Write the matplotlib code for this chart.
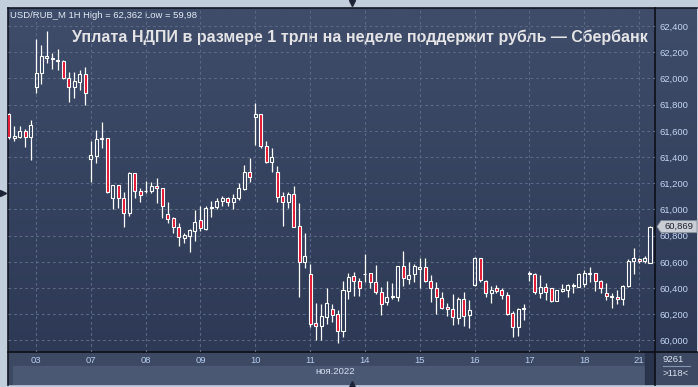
import numpy as np
import matplotlib
matplotlib.use("Agg")
import matplotlib.pyplot as plt
from matplotlib.patches import Rectangle, Polygon
from matplotlib.colors import LinearSegmentedColormap
from matplotlib.ticker import FuncFormatter

plt.rcParams['font.family'] = ['Liberation Sans', 'DejaVu Sans']

title = "Уплата НДПИ в размере 1 трлн на неделе поддержит рубль — Сбербанк"
symbol = "USD/RUB_M 1H"
month_label = "ноя.2022"
volume_text = "9261"

# hourly bars per trading day (first day is cut off at the left edge)
day_labels = ["02", "03", "07", "08", "09", "10", "11", "14", "15", "16", "17", "18", "21"]
day_counts = [5, 10, 10, 10, 10, 10, 10, 10, 10, 10, 10, 10, 3]

opens = [
    61.729, 61.548, 61.556, 61.599, 61.556,
    61.937, 62.040, 62.159, 62.159, 62.131, 62.134, 62.006, 61.933, 61.976, 62.032,
    61.383, 61.411, 61.536, 61.543, 61.085, 61.187, 61.085, 60.971, 61.276, 61.141,
    61.139, 61.143, 61.177, 61.162, 60.963, 60.933, 60.869, 60.785, 60.800, 60.838,
    60.920, 60.853, 61.009, 61.017, 61.067, 61.090, 61.060, 61.090, 61.156, 61.284,
    61.704, 61.727, 61.487, 61.365, 61.284, 61.103, 61.055, 61.116, 60.876, 60.601,
    60.505, 60.131, 60.113, 60.182, 60.238, 60.202, 60.072, 60.380, 60.492, 60.456,
    60.505, 60.513, 60.444, 60.368, 60.296, 60.330, 60.334, 60.566, 60.472, 60.505,
    60.543, 60.559, 60.456, 60.403, 60.322, 60.253, 60.238, 60.174, 60.314, 60.195,
    60.424, 60.627, 60.456, 60.360, 60.403, 60.385, 60.347, 60.208, 60.105, 60.238,
    60.508, 60.505, 60.365, 60.406, 60.398, 60.304, 60.380, 60.385, 60.416, 60.411,
    60.429, 60.508, 60.513, 60.454, 60.360, 60.334, 60.334, 60.314, 60.416, 60.609,
    60.620, 60.605, 60.594,
]
highs = [
    61.739, 61.637, 61.637, 61.612, 61.683,
    62.302, 62.256, 62.362, 62.197, 62.225, 62.141, 62.052, 62.052, 62.065, 62.090,
    61.523, 61.607, 61.668, 61.545, 61.187, 61.187, 61.136, 61.289, 61.276, 61.162,
    61.218, 61.212, 61.238, 61.165, 61.060, 60.945, 60.895, 60.823, 60.853, 60.996,
    61.027, 61.027, 61.067, 61.085, 61.103, 61.098, 61.118, 61.205, 61.340, 61.391,
    61.811, 61.730, 61.523, 61.467, 61.332, 61.136, 61.136, 61.179, 61.047, 60.818,
    60.582, 60.284, 60.276, 60.398, 60.276, 60.233, 60.454, 60.513, 60.521, 60.479,
    60.658, 60.516, 60.576, 60.406, 60.454, 60.437, 60.568, 60.683, 60.601, 60.582,
    60.627, 60.627, 60.500, 60.449, 60.372, 60.284, 60.353, 60.334, 60.368, 60.309,
    60.635, 60.630, 60.462, 60.416, 60.421, 60.398, 60.372, 60.227, 60.250, 60.282,
    60.533, 60.513, 60.500, 60.441, 60.403, 60.387, 60.431, 60.431, 60.441, 60.516,
    60.538, 60.563, 60.517, 60.462, 60.437, 60.365, 60.385, 60.421, 60.620, 60.704,
    60.627, 60.645, 60.874,
]
lows = [
    61.540, 61.525, 61.543, 61.479, 61.378,
    61.892, 61.956, 62.121, 62.070, 62.065, 61.998, 61.823, 61.853, 61.912, 61.795,
    61.212, 61.353, 61.472, 61.124, 61.001, 61.009, 60.869, 60.950, 61.085, 61.060,
    61.128, 61.128, 61.052, 60.937, 60.895, 60.818, 60.721, 60.747, 60.678, 60.762,
    60.838, 60.843, 60.945, 61.001, 61.027, 61.027, 61.001, 61.072, 61.149, 61.212,
    61.492, 61.472, 61.357, 61.289, 61.060, 60.876, 61.014, 60.864, 60.334, 60.551,
    60.105, 60.004, 60.004, 60.124, 60.143, 59.980, 60.029, 60.317, 60.340, 60.340,
    60.444, 60.403, 60.355, 60.195, 60.271, 60.317, 60.304, 60.416, 60.431, 60.449,
    60.403, 60.449, 60.296, 60.202, 60.238, 60.189, 60.118, 60.124, 60.113, 60.093,
    60.416, 60.449, 60.334, 60.284, 60.365, 60.314, 60.195, 60.029, 60.034, 60.156,
    60.454, 60.355, 60.327, 60.309, 60.296, 60.302, 60.372, 60.330, 60.365, 60.406,
    60.411, 60.449, 60.380, 60.365, 60.309, 60.250, 60.276, 60.271, 60.411, 60.505,
    60.594, 60.594, 60.590,
]
closes = [
    61.551, 61.561, 61.599, 61.556, 61.645,
    62.040, 62.174, 62.172, 62.147, 62.139, 62.006, 61.933, 61.981, 62.034, 61.887,
    61.416, 61.536, 61.543, 61.131, 61.187, 61.085, 60.971, 61.281, 61.141, 61.111,
    61.143, 61.179, 61.162, 61.029, 60.930, 60.869, 60.788, 60.805, 60.843, 60.905,
    60.856, 61.009, 61.017, 61.065, 61.090, 61.060, 61.090, 61.162, 61.284, 61.250,
    61.727, 61.487, 61.365, 61.398, 61.098, 61.055, 61.116, 60.869, 60.601, 60.645,
    60.128, 60.113, 60.187, 60.284, 60.195, 60.075, 60.385, 60.487, 60.456, 60.403,
    60.510, 60.444, 60.368, 60.276, 60.330, 60.340, 60.566, 60.475, 60.500, 60.566,
    60.559, 60.456, 60.403, 60.330, 60.250, 60.238, 60.182, 60.314, 60.189, 60.233,
    60.627, 60.462, 60.360, 60.385, 60.380, 60.345, 60.202, 60.101, 60.238, 60.246,
    60.517, 60.372, 60.406, 60.372, 60.304, 60.385, 60.391, 60.421, 60.426, 60.508,
    60.513, 60.517, 60.454, 60.398, 60.340, 60.340, 60.314, 60.416, 60.609, 60.627,
    60.605, 60.627, 60.869,
]

o = np.array(opens)
h = np.array(highs)
l = np.array(lows)
c = np.array(closes)
n = len(c)
x = np.arange(n)


def fmt(v):
    return f"{v:.3f}".replace('.', ',')


W, H = 698, 387
fig = plt.figure(figsize=(W / 100, H / 100), dpi=100)
fig.patch.set_facecolor('#c3cedd')

# background / frame, drawn in pixel coordinates (y down)
bg = fig.add_axes([0, 0, 1, 1])
bg.axis('off')
grad = np.linspace(0, 1, 256)[:, None]
cmap = LinearSegmentedColormap.from_list('navy', ['#3f4d6a', '#2d3955'])
bg.imshow(grad, extent=(8, 697, 352, 8), cmap=cmap, aspect='auto', zorder=0)
bg.add_patch(Rectangle((8, 352), 647, 14, color='#3d4963', zorder=1))
bg.add_patch(Rectangle((12, 366), 633, 18, color='#4b5874', zorder=1))
bg.add_patch(Rectangle((8, 366), 4, 18, color='#3d4963', zorder=1))
bg.add_patch(Rectangle((645, 352), 10, 32, color='#2a354d', zorder=1))
bg.add_patch(Rectangle((655, 352), 42, 32, color='#3d4963', zorder=1))
bg.plot([8, 8], [8, 385], color='#121722', lw=1.2, zorder=2)
bg.plot([8, 697], [8, 8], color='#121722', lw=1.2, zorder=2)
bg.plot([655, 655], [8, 385], color='#0c0f16', lw=1.2, zorder=2)
bg.plot([8, 697], [352, 352], color='#0c0f16', lw=1.2, zorder=2)
bg.plot([663, 690], [366, 366], color='#8494ad', lw=0.8, zorder=2)
bg.plot(352, 3, marker='v', color='#1c2436', ms=5, zorder=3)
bg.plot(352, 384, marker='^', color='#1c2436', ms=5, zorder=3)
bg.plot(3, 193, marker='>', color='#1c2436', ms=5, zorder=3)
bg.text(335, 372, month_label, fontsize=6.8, color='#d4def0', ha='center', va='center', zorder=3)
bg.text(673, 359, volume_text, fontsize=6.8, color='#d8e2f0', ha='center', va='center', zorder=3)
bg.text(676, 373, f">{n}<", fontsize=6.8, color='#d8e2f0', ha='center', va='center', zorder=3)
bg.text(10, 15, f"{symbol} High = {fmt(h.max())} Low = {fmt(l.min())[:-1]}",
        fontsize=6.8, color='#e2eaf6', ha='left', va='center', zorder=3)
bg.text(72, 37, title, fontsize=11.5, weight='bold', color='#e4e4e6',
        ha='left', va='center', zorder=3)
bg.set_xlim(0, W)
bg.set_ylim(H, 0)

# candle area
ax = fig.add_axes([8 / W, (H - 352) / H, 647 / W, 344 / H])
ax.patch.set_alpha(0)
for s in ax.spines.values():
    s.set_visible(False)

dx = 5.482
left = -(8.6 - 8) / dx
ax.set_xlim(left, left + 647 / dx)
ax.set_ylim(59.912, 62.538)

day_start = np.cumsum([0] + day_counts[:-1])
ax.set_xticks(day_start[1:])
ax.set_xticklabels(day_labels[1:])
ax.set_yticks(np.arange(60.0, 62.41, 0.2))
ax.yaxis.set_major_formatter(FuncFormatter(lambda v, p: fmt(v)))
ax.yaxis.tick_right()
ax.tick_params(axis='y', length=0, pad=3, labelsize=6.8, labelcolor='#c4d6f2')
ax.tick_params(axis='x', length=0, pad=3, labelsize=6.8, labelcolor='#b4cbee')
ax.grid(True, color='#586885', ls=(0, (2.5, 2.5)), lw=0.8, zorder=1)
ax.set_axisbelow(True)

top = np.maximum(o, c)
bot = np.minimum(o, c)
ax.vlines(x, top, h, color='white', lw=0.9, zorder=3)
ax.vlines(x, l, bot, color='white', lw=0.9, zorder=3)
bear = c < o
ax.bar(x[bear], np.maximum(top - bot, 0.003)[bear], bottom=bot[bear], width=0.55,
       color='#e3122d', edgecolor='white', lw=0.8, zorder=4)
ax.bar(x[~bear], np.maximum(top - bot, 0.003)[~bear], bottom=bot[~bear], width=0.55,
       facecolor='none', edgecolor='white', lw=0.8, zorder=4)

# last price tag on the right scale
py = H - ax.transData.transform((0, c[-1]))[1]
bg.add_patch(Polygon([(657, py), (661, py - 6), (697, py - 6), (697, py + 6), (661, py + 6)],
                     closed=True, facecolor='#c9cdd4', edgecolor='#8a909a', lw=0.6, zorder=5))
bg.text(679, py, fmt(c[-1]), fontsize=6.8, color='#1e222a', ha='center', va='center', zorder=6)

fig.savefig('out.png', dpi=100, facecolor=fig.get_facecolor())
